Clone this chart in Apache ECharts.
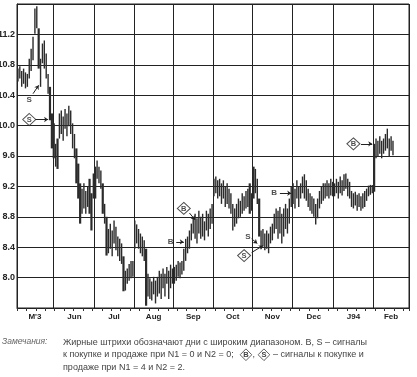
<!DOCTYPE html>
<html><head><meta charset="utf-8">
<script src="https://cdn.jsdelivr.net/npm/echarts@6/dist/echarts.min.js"></script>
<style>html,body{margin:0;padding:0;background:#fff}#c{width:417px;height:377px}</style>
</head><body><div id="c"></div>
<script>
// Month axis structure (trading days per month)
const monthNames = ["M'3","Jun","Jul","Aug","Sep","Oct","Nov","Dec","J94","Feb"];
const monthDays = [19,22,21,21,21,21,21,22,21,19];
const yLabels = ['8.0','8.4','8.8','9.2','9.6','10.0','10.4','10.8','11.2'];

// Daily highs / lows
const high = [
10.75,10.78,10.72,10.75,10.70,10.68,10.88,11.01,11.17,11.54,11.57,11.28,10.88,11.08,11.12,10.95,10.68,10.51,10.16,
10.03,9.76,9.83,10.16,10.20,10.12,10.22,10.16,10.26,10.20,10.03,9.89,9.70,9.50,9.24,9.17,9.24,9.14,9.20,9.30,9.11,9.37,
9.46,9.54,9.46,9.41,9.24,8.97,8.80,8.64,8.71,8.62,8.75,8.67,8.54,8.51,8.45,8.28,8.09,8.12,8.18,8.22,8.22,
8.75,8.70,8.64,8.58,8.54,8.49,8.38,8.05,7.99,7.95,8.01,7.96,8.01,8.09,8.05,8.12,8.05,8.14,8.09,8.17,8.12,
8.14,8.17,8.22,8.20,8.22,8.38,8.51,8.54,8.62,8.71,8.80,8.84,8.78,8.88,8.80,8.84,8.74,8.88,8.84,8.91,8.97,
9.30,9.33,9.28,9.30,9.24,9.28,9.20,9.24,9.17,9.11,8.97,8.91,8.97,9.04,9.01,9.11,9.07,9.14,9.17,9.24,9.11,
9.46,9.43,9.30,9.04,8.62,8.64,8.58,8.62,8.58,8.67,8.71,8.84,8.91,8.88,8.93,8.84,8.91,8.97,8.91,9.04,9.20,
9.24,9.17,9.28,9.20,9.24,9.33,9.36,9.28,9.17,9.11,9.07,9.04,8.97,9.04,9.14,9.20,9.24,9.24,9.28,9.24,9.30,9.26,
9.24,9.30,9.26,9.33,9.28,9.36,9.37,9.30,9.26,9.14,9.11,9.13,9.09,9.11,9.07,9.11,9.14,9.17,9.21,9.22,9.22,
9.76,9.83,9.80,9.86,9.80,9.83,9.89,9.96,9.83,9.86,9.80
];
const low = [
10.58,10.62,10.51,10.55,10.49,10.51,10.62,10.72,10.86,11.21,11.28,10.75,10.51,10.82,10.75,10.62,10.42,10.07,9.70,
9.57,9.46,9.43,9.83,9.89,9.80,9.96,9.86,9.99,9.89,9.70,9.57,9.24,9.04,8.71,8.84,8.91,8.84,8.93,8.84,8.62,9.04,
9.04,9.30,9.24,9.17,8.84,8.71,8.29,8.32,8.38,8.28,8.45,8.36,8.28,8.22,8.18,7.82,7.83,7.92,7.96,7.99,8.01,
8.38,8.45,8.38,8.32,8.28,8.22,7.63,7.75,7.72,7.70,7.78,7.66,7.75,7.79,7.72,7.86,7.75,7.92,7.72,7.86,7.92,
7.92,7.96,8.01,7.99,8.04,8.09,8.22,8.32,8.38,8.49,8.58,8.51,8.45,8.58,8.51,8.54,8.49,8.62,8.54,8.64,8.71,
9.07,9.11,9.04,9.07,8.97,9.04,8.93,8.97,8.91,8.84,8.62,8.67,8.71,8.78,8.80,8.84,8.88,8.91,8.93,8.84,8.88,
9.04,9.11,8.97,8.54,8.38,8.41,8.36,8.38,8.32,8.45,8.49,8.58,8.64,8.51,8.58,8.45,8.54,8.64,8.58,8.71,8.93,
8.97,8.91,9.04,8.93,9.04,9.11,9.04,9.01,8.93,8.88,8.84,8.80,8.70,8.78,8.91,8.97,9.01,9.04,9.07,9.04,9.08,9.07,
9.07,9.11,9.04,9.11,9.08,9.14,9.17,9.07,9.04,8.93,8.91,8.95,8.88,8.93,8.88,8.91,8.93,9.01,9.07,9.09,9.11,
9.13,9.57,9.59,9.63,9.57,9.63,9.67,9.70,9.59,9.67,9.61
];

// Signals: [dayIndex, price, letter]
const plainSignals = [[6,10.34,'S'],[81,8.47,'B'],[122,8.54,'S'],[136,9.11,'B']];
const diamondSignals = [[6,10.08,'S'],[88,8.91,'B'],[120,8.29,'S'],[178,9.76,'B']];
const arrows = [
  [[8,10.42],[11,10.53]],
  [[9,10.08],[16,10.08]],
  [[91,8.85],[94,8.76]],
  [[84,8.47],[88,8.47]],
  [[124,8.51],[127,8.45]],
  [[124,8.33],[130,8.42]],
  [[139,9.11],[145,9.11]],
  [[182,9.76],[188,9.76]]
];

// build axis helpers
const days = [];
const monthStart = new Set();
const labelAt = {};
let idx = 0;
monthDays.forEach((n, m) => {
  monthStart.add(idx);
  labelAt[idx + Math.floor(n / 2)] = monthNames[m];
  for (let k = 0; k < n; k++) days.push(String(idx + k));
  idx += n;
});
const bars = high.map((h, i) => [i, low[i], h]);

const diamondUrl = 'data:image/svg+xml;charset=utf-8,' + encodeURIComponent(
  "<svg xmlns='http://www.w3.org/2000/svg' width='14' height='14'><polygon points='7,0.7 13.3,7 7,13.3 0.7,7' fill='white' stroke='#555' stroke-width='1'/></svg>");

const chart = echarts.init(document.getElementById('c'), null, {renderer: 'canvas'});
chart.setOption({
  animation: false,
  backgroundColor: '#fff',
  grid: {left: 17, right: 8, top: 4, bottom: 69, containLabel: false, outerBoundsMode: 'none',
         show: true, borderColor: '#222', borderWidth: 1},
  xAxis: {
    type: 'category', data: days, boundaryGap: true,
    axisLine: {show: true, lineStyle: {color: '#222', width: 1}},
    axisTick: {show: true, interval: (i) => i % 5 === 0, length: 3, lineStyle: {color: '#333'}},
    splitLine: {show: true, interval: (i) => monthStart.has(i), lineStyle: {color: '#222', width: 1}},
    axisLabel: {
      interval: (i) => labelAt[i] !== undefined,
      formatter: (v, i) => labelAt[i] || '',
      fontSize: 8, fontWeight: 'bold', color: '#222', margin: 5,
      fontFamily: 'Liberation Sans'
    }
  },
  yAxis: {
    type: 'value', min: 7.6, max: 11.6, interval: 0.4,
    axisLine: {show: true, lineStyle: {color: '#222'}},
    axisTick: {show: false},
    splitLine: {show: true, lineStyle: {color: '#222', width: 1}},
    axisLabel: {
      formatter: (v) => { const s = v.toFixed(1); return yLabels.includes(s) ? s : ''; },
      fontSize: 9, fontWeight: 'bold', color: '#222', margin: 2, fontFamily: 'Liberation Sans'
    }
  },
  series: [
    {
      type: 'custom', data: bars, encode: {x: 0, y: [1, 2]}, clip: true,
      renderItem: (params, api) => {
        const x = api.value(0);
        const lo = api.coord([x, api.value(1)]);
        const hi = api.coord([x, api.value(2)]);
        const wide = api.value(2) - api.value(1) >= 0.4;
        return {type: 'line', shape: {x1: lo[0], y1: lo[1], x2: hi[0], y2: hi[1]},
          style: {stroke: '#2b2b2b', lineWidth: wide ? 2.2 : 1.4}};
      }
    },
    {
      type: 'lines', coordinateSystem: 'cartesian2d', z: 5,
      symbol: ['none', 'arrow'], symbolSize: 4,
      lineStyle: {color: '#222', width: 1, opacity: 1},
      data: arrows.map(a => ({coords: a}))
    },
    {
      type: 'scatter', z: 6, symbolSize: 0,
      data: plainSignals.map(s => ({value: [s[0], s[1]], name: s[2]})),
      label: {show: true, position: 'inside', formatter: p => p.name, fontSize: 8, fontWeight: 'bold', color: '#222', fontFamily: 'Liberation Sans'}
    },
    {
      type: 'scatter', z: 6, symbol: 'diamond', symbolSize: [13, 12],
      itemStyle: {color: '#fff', borderColor: '#222', borderWidth: 1},
      data: diamondSignals.map(s => ({value: [s[0], s[1]], name: s[2]})),
      label: {show: true, position: 'inside', formatter: p => p.name, fontSize: 7.5, fontWeight: 'bold', color: '#222', fontFamily: 'Liberation Sans'}
    }
  ],
  graphic: [
    {type: 'text', left: 2, top: 337, style: {text: 'Замечания:', fontSize: 8.5, fontStyle: 'italic', fill: '#666', fontFamily: 'Liberation Sans'}},
    {type: 'text', left: 63, top: 336, style: {
      text: 'Жирные штрихи обозначают дни с широким диапазоном. B, S – сигналы\nк покупке и продаже при N1 = 0 и N2 = 0; {d|B}, {d|S} – сигналы к покупке и\nпродаже при N1 = 4 и N2 = 2.',
      fontSize: 9, lineHeight: 12.5, fill: '#444', fontFamily: 'Liberation Sans',
      rich: {d: {backgroundColor: {image: diamondUrl}, width: 13, height: 13, align: 'center', fontSize: 7.5, fontWeight: 'bold', fill: '#444', lineHeight: 12.5}}
    }}
  ]
});
</script></body></html>
